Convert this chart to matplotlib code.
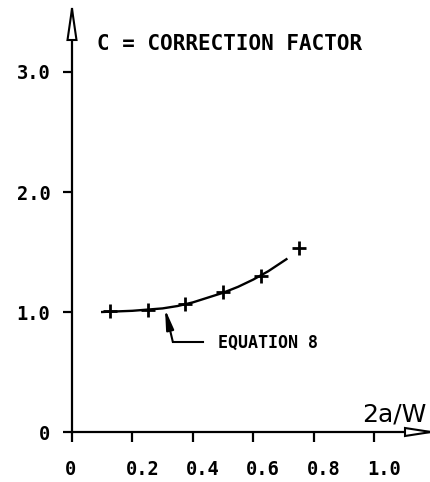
import matplotlib
matplotlib.use("Agg")
import matplotlib.pyplot as plt
import matplotlib.transforms as mtransforms
from matplotlib.patches import Polygon

# Data
# measured points (+)
ratio = [0.125, 0.25, 0.375, 0.5, 0.625, 0.75]
factor = [1.01, 1.02, 1.07, 1.17, 1.30, 1.53]
# Equation 8 curve
curve_x = [0.10, 0.15, 0.20, 0.25, 0.30, 0.35, 0.40, 0.45, 0.50, 0.55, 0.60, 0.65, 0.71]
curve_y = [1.00, 1.005, 1.01, 1.02, 1.03, 1.05, 1.08, 1.12, 1.16, 1.21, 1.27, 1.34, 1.44]

xticks = [0, 0.2, 0.4, 0.6, 0.8, 1.0]
xtick_labels = ["0", "0.2", "0.4", "0.6", "0.8", "1.0"]
yticks = [0, 1, 2, 3]
ytick_labels = ["0", "1.0", "2.0", "3.0"]

W, H = 431, 482
fig = plt.figure(figsize=(W / 100, H / 100), dpi=100)
ax = fig.add_axes([72 / W, 50 / H, 359 / W, 423 / H])
ax.set_xlim(0, 359 / 302)
ax.set_ylim(0, 423 / 120)

mono = "DejaVu Sans Mono"

# curve + points
ax.plot(curve_x, curve_y, color="black", lw=1.7)
ax.plot(ratio, factor, "+", color="black", ms=10, mew=2.0, clip_on=False)

# axes
for s in ["top", "right"]:
    ax.spines[s].set_visible(False)
for s in ["left", "bottom"]:
    ax.spines[s].set_linewidth(1.6)
ax.set_xticks(xticks)
ax.set_xticklabels(xtick_labels, family=mono, fontsize=13.5, fontweight="bold")
ax.set_yticks(yticks)
ax.set_yticklabels(ytick_labels, family=mono, fontsize=13.5, fontweight="bold")
ax.tick_params(axis="x", direction="out", length=7.5, width=1.6, pad=13)
ax.tick_params(axis="y", direction="out", length=6.5, width=1.6, pad=9)

# plotter style: x labels start just left of the tick
shift = mtransforms.ScaledTranslation(-7 / 100, 0, fig.dpi_scale_trans)
for lab in ax.get_xticklabels():
    lab.set_horizontalalignment("left")
    lab.set_transform(lab.get_transform() + shift)

# open arrowheads on the axes
xa = Polygon([[1.0, 0], [1 - 26 / 359, 4 / 423], [1 - 26 / 359, -4 / 423]], closed=True,
             fc="white", ec="black", lw=1.5, transform=ax.transAxes, clip_on=False, zorder=5)
ya = Polygon([[0, 1.0], [4.5 / 359, 1 - 31 / 423], [-4.5 / 359, 1 - 31 / 423]], closed=True,
             fc="white", ec="black", lw=1.5, transform=ax.transAxes, clip_on=False, zorder=5)
ax.add_patch(xa)
ax.add_patch(ya)

# labels
ax.text(25 / 359, 382 / 423, "C = CORRECTION FACTOR", transform=ax.transAxes,
        family=mono, fontsize=15, fontweight="bold", va="baseline", ha="left")
ax.text(355 / 359, 10 / 423, "2a/W", transform=ax.transAxes,
        fontsize=18, va="baseline", ha="right")

# Equation 8 leader
ax.plot([0.434, 0.334], [0.75, 0.75], color="black", lw=1.5)
ax.annotate("", xy=(0.308, 1.025), xytext=(0.334, 0.75),
            arrowprops=dict(arrowstyle="-|>,head_length=0.8,head_width=0.15",
                            color="black", lw=1.5, shrinkA=0, shrinkB=0,
                            mutation_scale=15))
ax.text(0.483, 0.70, "EQUATION 8", family=mono, fontsize=12, fontweight="bold",
        va="baseline", ha="left")

fig.savefig("out.png", dpi=100)
